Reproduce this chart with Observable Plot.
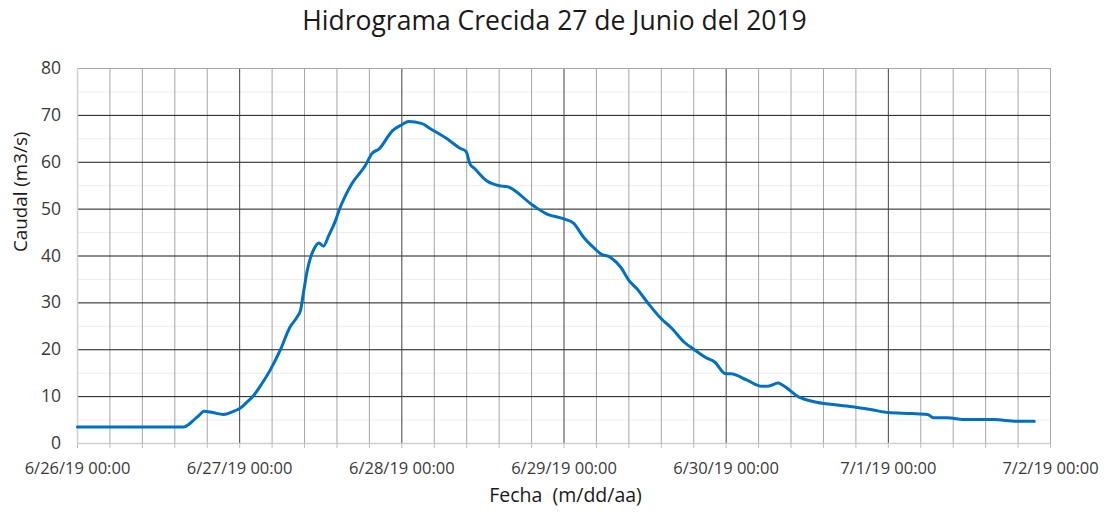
<!DOCTYPE html>
<html>
<head>
<meta charset="utf-8">
<script src="https://cdn.jsdelivr.net/npm/d3@7"></script>
<script src="https://cdn.jsdelivr.net/npm/@observablehq/plot@0.6"></script>
<style>
  html, body { margin: 0; padding: 0; background: #fff; }
  #title { width: 1109px; height: 46px; line-height: 40px; text-align: center; overflow: visible;
           font-family: "Open Sans", sans-serif; font-size: 26.5px; color: #1a1a1a; }
  #chart svg { display: block; }
</style>
</head>
<body>
<div id="title">Hidrograma Crecida 27 de Junio del 2019</div>
<div id="chart"></div>
<script>
// Hours since 6/26/19 00:00
const hours = [0, 15.7, 16.5, 17.2, 18.0, 18.7, 20.0, 21.6, 23.0, 24.0, 25.0, 26.1, 27.3, 28.5, 30.0, 31.4,
  32.5, 33.0, 33.5, 34.0, 34.5, 35.0, 35.7, 36.4, 37.2, 38.2, 38.7, 39.6, 40.6, 42.6, 43.6, 44.6, 46.6,
  48.0, 49.0, 50.9, 52.3, 54.7, 56.6, 57.5, 58.1, 58.8, 60.5, 62.4, 63.6, 67.4, 69.4, 72.0, 73.4, 74.9,
  76.6, 77.4, 78.9, 80.4, 81.6, 82.8, 84.5, 86.4, 87.8, 89.8, 91.4, 92.9, 94.3, 95.9, 96.7, 99.1, 101.3,
  102.2, 103.7, 104.4, 106.8, 109.0, 111.8, 115.0, 117.6, 120.0, 123.4, 125.8, 126.7, 128.6, 131.5,
  135.6, 139.0, 141.6];
// Caudal (m3/s)
const caudal = [3.5, 3.5, 4.1, 5.0, 6.0, 6.9, 6.6, 6.2, 6.8, 7.45, 8.7, 10.3, 12.8, 15.6, 19.9, 24.7,
  27.0, 28.4, 32.7, 36.9, 39.7, 41.5, 42.8, 42.1, 44.4, 47.6, 49.7, 52.7, 55.4, 59.3, 61.9, 62.8, 66.7,
  68.0, 68.7, 68.3, 67.1, 65.0, 63.0, 62.3, 59.6, 58.6, 56.1, 55.0, 54.8, 50.8, 49.0, 47.9, 47.0, 44.0,
  41.5, 40.5, 39.7, 37.6, 34.8, 33.0, 29.8, 26.6, 24.8, 21.6, 19.9, 18.4, 17.4, 14.9, 14.9, 13.5, 12.2,
  12.2, 12.9, 12.4, 9.9, 8.9, 8.3, 7.8, 7.2, 6.6, 6.4, 6.2, 5.5, 5.5, 5.1,
  5.1, 4.75, 4.75];
const xTickLabels = ["6/26/19 00:00", "6/27/19 00:00", "6/28/19 00:00", "6/29/19 00:00", "6/30/19 00:00", "7/1/19 00:00", "7/2/19 00:00"];
const yTicks = [0, 10, 20, 30, 40, 50, 60, 70, 80];
const yMinor = [5, 15, 25, 35, 45, 55, 65, 75];

const start = Date.UTC(2019, 5, 26);
const DAY = 864e5;
const data = hours.map((h, i) => ({date: new Date(start + h * 36e5), q: caudal[i]}));
const dayTicks = xTickLabels.map((_, i) => new Date(start + i * DAY));
const minorX = [];
for (let i = 0; i <= 30; i++) minorX.push(new Date(start + i * DAY / 5));
const minorOnly = minorX.filter((d, i) => i % 5 !== 0);
const innerDays = dayTicks.slice(1, -1);
const labelOf = new Map(dayTicks.map((d, i) => [+d, xTickLabels[i]]));

const chart = Plot.plot({
  width: 1109,
  height: 468,
  marginLeft: 77,
  marginRight: 59,
  marginTop: 22,
  marginBottom: 71,
  style: {fontFamily: "Open Sans, sans-serif", fontSize: "16.5px", color: "#3a3a3a", background: "#fff"},
  x: {type: "utc", domain: [dayTicks[0], dayTicks[dayTicks.length - 1]], axis: null},
  y: {domain: [0, 80], axis: null},
  marks: [
    Plot.ruleY(yMinor, {stroke: "#eeeeee", strokeWidth: 1}),
    Plot.ruleX(minorOnly, {stroke: "#a6a6a6", strokeWidth: 1}),
    Plot.ruleY(yTicks.slice(1, -1), {stroke: "#1a1a1a", strokeWidth: 1}),
    Plot.ruleX(innerDays, {stroke: "#404040", strokeWidth: 1}),
    Plot.ruleY([0], {stroke: "#d0d0d0", strokeWidth: 1.5}),
    Plot.ruleY([80], {stroke: "#a6a6a6", strokeWidth: 1}),
    Plot.ruleX([dayTicks[0]], {stroke: "#d0d0d0", strokeWidth: 1.5}),
    Plot.ruleX([dayTicks[dayTicks.length - 1]], {stroke: "#a6a6a6", strokeWidth: 1}),
    Plot.axisX(minorX, {tickSize: 5, tickFormat: () => "", stroke: "#bfbfbf", label: null}),
    Plot.axisX(dayTicks, {tickSize: 0, tickPadding: 19, tickFormat: (d) => labelOf.get(+d), label: null, fontSize: 16.5}),
    Plot.axisY(yTicks, {tickSize: 0, tickPadding: 16.5, label: null, fontSize: 17.5}),
    Plot.line(data, {x: "date", y: "q", stroke: "#0070c0", strokeWidth: 3, curve: "monotone-x"}),
    Plot.text(["Caudal (m3/s)"], {frameAnchor: "left", dx: -57, dy: -4, rotate: -90, fontSize: 18.8, fill: "#1a1a1a"}),
    Plot.text(["Fecha\u00a0 (m/dd/aa)"], {frameAnchor: "bottom", dx: 1.5, dy: 58, fontSize: 19.5, fill: "#1a1a1a"})
  ]
});
document.getElementById("chart").appendChild(chart);
</script>
</body>
</html>
